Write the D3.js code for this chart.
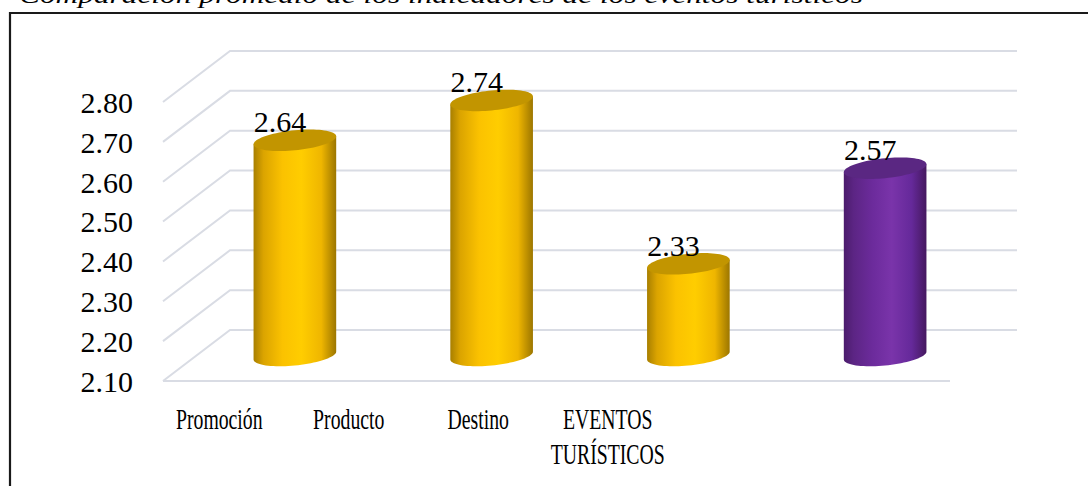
<!DOCTYPE html>
<html>
<head>
<meta charset="utf-8">
<script src="https://cdn.jsdelivr.net/npm/d3@7"></script>
<style>
html,body{margin:0;padding:0;background:#fff;}
svg{display:block;}
text{font-family:"Liberation Serif","Times New Roman",serif;fill:#000;}
</style>
</head>
<body>
<svg id="chart" width="1088" height="486"></svg>
<script>
// ---- data ----
const titleText = "Comparación promedio de los indicadores de los eventos turísticos";
const categories = ["Promoción", "Producto", "Destino", "EVENTOS TURÍSTICOS"];
const categoryLines = [["Promoción"], ["Producto"], ["Destino"], ["EVENTOS", "TURÍSTICOS"]];
const values = [2.64, 2.74, 2.33, 2.57];
const valueLabels = ["2.64", "2.74", "2.33", "2.57"];
const yTicks = [2.10, 2.20, 2.30, 2.40, 2.50, 2.60, 2.70, 2.80];
const barColorKeys = ["gold", "gold", "gold", "purple"];

// ---- layout ----
const svg = d3.select("#chart");
const W = 1088, H = 486;
const front = {left: 163, right: 950, bottom: 381, top: 102};
const depth = {dx: 67, dy: -51};

const y = d3.scaleLinear().domain([2.1, 2.8]).range([front.bottom, front.top]);
const x = d3.scalePoint().domain(categories).range([front.left, front.right]).padding(0.5);
const barW = x.step() * 0.42;

// gradients
const defs = svg.append("defs");
const palettes = {
  gold: {stops: [["0%", "#a87f00"], ["12%", "#dba400"], ["35%", "#fbc200"], ["58%", "#ffcd00"], ["82%", "#efb600"], ["100%", "#9c7600"]], top: "#c29500"},
  purple: {stops: [["0%", "#4b1c6c"], ["12%", "#5c2584"], ["35%", "#6c2b9c"], ["58%", "#7a34aa"], ["82%", "#65299a"], ["100%", "#45185f"]], top: "#5a2782"}
};
Object.entries(palettes).forEach(([k, p]) => {
  const g = defs.append("linearGradient").attr("id", "grad-" + k)
    .attr("x1", "0%").attr("x2", "100%").attr("y1", "0%").attr("y2", "0%");
  p.stops.forEach(s => g.append("stop").attr("offset", s[0]).attr("stop-color", s[1]));
});

// frame
svg.append("path")
  .attr("d", `M10,${H + 5} L10,13 L${W + 5},13`)
  .attr("fill", "none").attr("stroke", "#1a1a1a").attr("stroke-width", 2.2);

// title (cut at top)
svg.append("text")
  .attr("x", 19).attr("y", 3)
  .attr("textLength", 844).attr("lengthAdjust", "spacingAndGlyphs")
  .style("font-style", "italic").style("font-size", "24px")
  .text(titleText);

// gridlines: left wall diagonals + back wall horizontals
const grid = svg.append("g").attr("stroke", "#d9dce4").attr("stroke-width", 2).attr("fill", "none");
grid.selectAll("path.g").data(yTicks).join("path")
  .attr("d", d => `M${front.left},${y(d)} L${front.left + depth.dx},${y(d) + depth.dy} L${front.right + depth.dx},${y(d) + depth.dy}`);
// floor front edge
grid.append("line")
  .attr("x1", front.left).attr("x2", front.right)
  .attr("y1", y(2.1)).attr("y2", y(2.1));

// y axis labels
svg.append("g").selectAll("text").data(yTicks).join("text")
  .attr("x", 133).attr("y", d => y(d)).attr("dy", "0.36em")
  .attr("text-anchor", "end").style("font-size", "30px")
  .text(d => d3.format(".2f")(d));

// cylinders at mid depth
const mdx = depth.dx / 2, mdy = depth.dy / 2;
const ry = 10, skew = -5.5;
const bars = svg.append("g").selectAll("g.bar").data(values).join("g")
  .attr("transform", (d, i) => `translate(${x(categories[i]) + mdx},0)`);
bars.each(function (d, i) {
  const g = d3.select(this);
  const ytop = y(d) + mdy, ybot = y(2.1) + mdy;
  const pal = palettes[barColorKeys[i]];
  // skew group, origin at each end center
  const body = g.append("g");
  // body: rect + bottom half ellipse, skewed around each y
  const r = barW / 2;
  const t = Math.tan(skew * Math.PI / 180);
  // build path in local coords then apply skew manually: y' = y + t*x
  const sk = (px, py) => [px, py + t * px];
  const n = 40;
  const pts = [];
  // left side top to bottom
  pts.push(sk(-r, ytop)); pts.push(sk(-r, ybot));
  // bottom half ellipse from left to right (front arc)
  for (let k = 0; k <= n; k++) {
    const a = Math.PI - Math.PI * k / n;
    pts.push(sk(r * Math.cos(a), ybot + ry * Math.sin(a)));
  }
  pts.push(sk(r, ytop));
  body.append("path")
    .attr("d", d3.line()(pts) + "Z")
    .attr("fill", `url(#grad-${barColorKeys[i]})`);
  // top ellipse
  const tp = [];
  for (let k = 0; k <= 2 * n; k++) {
    const a = 2 * Math.PI * k / (2 * n);
    tp.push(sk(r * Math.cos(a), ytop + ry * Math.sin(a)));
  }
  body.append("path").attr("d", d3.line()(tp) + "Z").attr("fill", pal.top);
  // value label
  g.append("text")
    .attr("x", -15).attr("y", ytop - 8)
    .attr("text-anchor", "middle").style("font-size", "30px")
    .text(valueLabels[i]);
});

// category labels (group horizontally compressed, as in the reference)
const catG = svg.append("g").attr("transform", "translate(47.3,0) scale(0.658,1)");
catG.selectAll("text").data(categories).join("text")
  .attr("x", d => x(d)).attr("y", 429)
  .attr("text-anchor", "middle").style("font-size", "30px")
  .each(function (d, i) {
    const t = d3.select(this);
    categoryLines[i].forEach((ln, j) => {
      t.append("tspan").attr("x", x(d)).attr("dy", j === 0 ? 0 : 35).text(ln);
    });
  });
</script>
</body>
</html>
